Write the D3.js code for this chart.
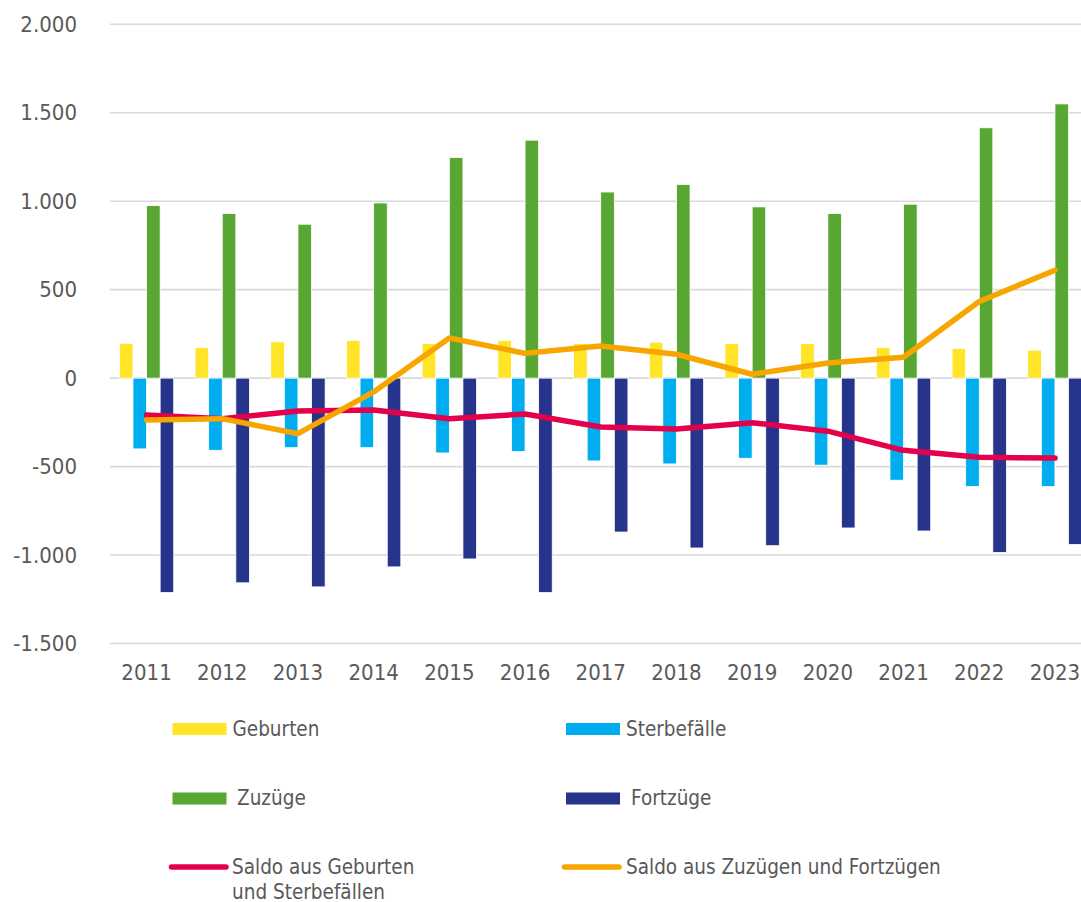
<!DOCTYPE html>
<html>
<head>
    <meta charset="utf-8">
    <title>Bevölkerungsbewegung</title>
    <script src="https://d3js.org/d3.v7.min.js"></script>
    <style>
        body { margin: 0; background: #fff; }
        svg { display: block; }
        .tick-label { font-family: "Liberation Sans Narrow", "DejaVu Sans Condensed", Roboto, sans-serif; fill: #595959; }
        .legend-label { font-family: "Liberation Sans Narrow", "DejaVu Sans Condensed", Roboto, sans-serif; fill: #595959; font-size: 20.5px; }
    </style>
</head>
<body>
    <div id="chart"></div>
    <script>
        // Werte
        const years = [2011, 2012, 2013, 2014, 2015, 2016, 2017, 2018, 2019, 2020, 2021, 2022, 2023];
        const geburten =    [197, 173, 205, 212, 195, 212, 195, 203, 195, 195, 173, 167, 158];
        const sterbefaelle = [-400, -408, -393, -393, -423, -415, -468, -485, -453, -492, -577, -613, -613];
        const zuzuege =     [975, 930, 870, 990, 1247, 1345, 1052, 1095, 968, 930, 983, 1415, 1550];
        const fortzuege =   [-1212, -1157, -1180, -1067, -1022, -1212, -870, -960, -947, -847, -864, -985, -940];
        const saldoNatuerlich = [-209, -230, -186, -180, -230, -203, -276, -288, -252, -300, -408, -447, -452];
        const saldoWanderung =  [-237, -229, -314, -78, 227, 140, 182, 135, 22, 85, 118, 433, 610];
        const yTicks = [-1500, -1000, -500, 0, 500, 1000, 1500, 2000];

        const width = 1081, height = 902;

        const barSeries = [
            { key: "Geburten", values: geburten, color: "#ffe428" },
            { key: "Sterbefälle", values: sterbefaelle, color: "#00aeef" },
            { key: "Zuzüge", values: zuzuege, color: "#58a733" },
            { key: "Fortzüge", values: fortzuege, color: "#27348b" }
        ];
        const lineSeries = [
            { key: "Saldo aus Geburten und Sterbefällen", values: saldoNatuerlich, color: "#e4004b" },
            { key: "Saldo aus Zuzügen und Fortzügen", values: saldoWanderung, color: "#f7a600" }
        ];

        const x = d3.scaleBand()
            .domain(years)
            .range([108.7, 1092.8])
            .paddingInner(0.282)
            .paddingOuter(0.141);

        const x1 = d3.scaleBand()
            .domain(barSeries.map(d => d.key))
            .range([0, x.bandwidth()]);

        const y = d3.scaleLinear()
            .domain([-1500, 2000])
            .range([643.5, 24.3]);

        const svg = d3.select("#chart")
            .append("svg")
            .attr("width", width)
            .attr("height", height);

        // Gitterlinien
        svg.append("g")
            .selectAll("line")
            .data(yTicks)
            .join("line")
            .attr("x1", 110)
            .attr("x2", width)
            .attr("y1", d => y(d))
            .attr("y2", d => y(d))
            .attr("stroke", "#d9d9d9")
            .attr("stroke-width", 1.6);

        // y-Achse
        const fmt = d3.formatLocale({ decimal: ",", thousands: ".", grouping: [3], currency: ["", "€"], minus: "-" }).format(",d");
        svg.append("g")
            .selectAll("text")
            .data(yTicks)
            .join("text")
            .attr("class", "tick-label")
            .attr("x", 77)
            .attr("y", d => y(d))
            .attr("dy", "0.35em")
            .attr("text-anchor", "end")
            .style("font-size", "22px")
            .text(d => fmt(d));

        // x-Achse
        svg.append("g")
            .selectAll("text")
            .data(years)
            .join("text")
            .attr("class", "tick-label")
            .attr("x", d => x(d) + x.bandwidth() / 2)
            .attr("y", 680)
            .attr("text-anchor", "middle")
            .style("font-size", "22px")
            .text(d => d);

        // Balken
        barSeries.forEach(s => {
            svg.append("g")
                .selectAll("rect")
                .data(s.values.map((v, i) => ({ year: years[i], value: v })))
                .join("rect")
                .attr("x", d => x(d.year) + x1(s.key))
                .attr("width", x1.bandwidth())
                .attr("y", d => y(Math.max(0, d.value)))
                .attr("height", d => Math.abs(y(d.value) - y(0)))
                .attr("fill", s.color)
                .attr("stroke", "#ffffff")
                .attr("stroke-width", 0.8);
        });

        // Linien
        const line = d3.line()
            .x(d => x(d.year) + x.bandwidth() / 2)
            .y(d => y(d.value));

        lineSeries.forEach(s => {
            svg.append("path")
                .datum(s.values.map((v, i) => ({ year: years[i], value: v })))
                .attr("d", line)
                .attr("fill", "none")
                .attr("stroke", s.color)
                .attr("stroke-width", 5.5)
                .attr("stroke-linejoin", "round")
                .attr("stroke-linecap", "round");
        });

        // Legende
        const legendItems = [
            { label: ["Geburten"], color: barSeries[0].color, type: "bar", x: 172.5, y: 729, tx: 232.5 },
            { label: ["Sterbefälle"], color: barSeries[1].color, type: "bar", x: 566, y: 729, tx: 626 },
            { label: ["Zuzüge"], color: barSeries[2].color, type: "bar", x: 172.5, y: 798.5, tx: 237 },
            { label: ["Fortzüge"], color: barSeries[3].color, type: "bar", x: 566, y: 798.5, tx: 631 },
            { label: ["Saldo aus Geburten", "und Sterbefällen"], color: lineSeries[0].color, type: "line", x: 169, y: 867, tx: 232 },
            { label: ["Saldo aus Zuzügen und Fortzügen"], color: lineSeries[1].color, type: "line", x: 562, y: 867, tx: 626 }
        ];

        const legend = svg.append("g").attr("class", "legend");
        legendItems.forEach(it => {
            if (it.type === "bar") {
                legend.append("rect")
                    .attr("x", it.x)
                    .attr("y", it.y - 6)
                    .attr("width", 54)
                    .attr("height", 12)
                    .attr("fill", it.color);
            } else {
                legend.append("line")
                    .attr("x1", it.x + 2.5)
                    .attr("x2", it.x + 57)
                    .attr("y1", it.y)
                    .attr("y2", it.y)
                    .attr("stroke", it.color)
                    .attr("stroke-width", 5.5)
                    .attr("stroke-linecap", "round");
            }
            const t = legend.append("text")
                .attr("class", "legend-label")
                .attr("x", it.tx)
                .attr("y", it.y + 6.5);
            it.label.forEach((l, i) => {
                t.append("tspan")
                    .attr("x", it.tx)
                    .attr("dy", i === 0 ? 0 : 25)
                    .text(l);
            });
        });
    </script>
</body>
</html>
